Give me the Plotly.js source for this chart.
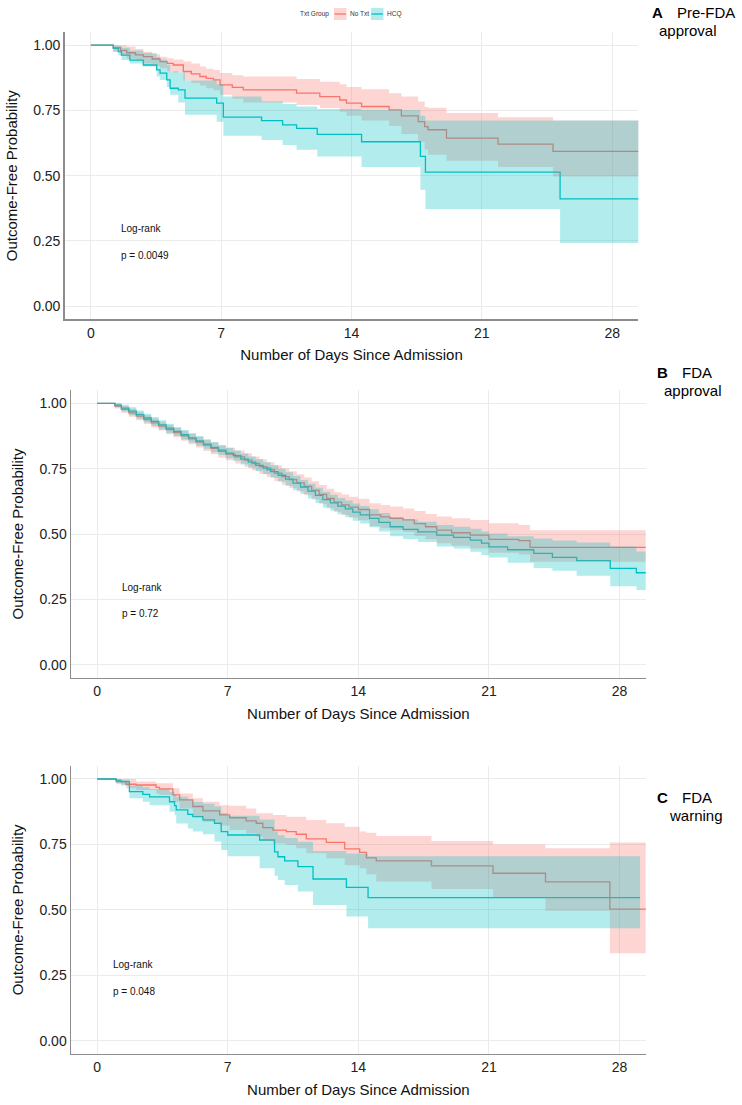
<!DOCTYPE html>
<html>
<head>
<meta charset="utf-8">
<script src="https://cdn.plot.ly/plotly-3.0.1.min.js"></script>
<style>html,body{margin:0;padding:0;background:#fff;}#chart{width:742px;height:1105px;}</style>
</head>
<body>
<div id="chart"></div>
<script>
// ---------- Panel A: Pre-FDA approval ----------
const A_noTxt_days  = [0, 1.2, 1.6, 1.93, 2.4, 2.82, 3.3, 3.72, 4.1, 4.43, 4.97, 5.4, 5.86, 6.2, 6.58, 6.94, 7.6, 8.19, 11.05, 12.3, 13.37, 13.73, 14.54, 16.02, 16.68, 17.58, 17.93, 18.11, 19.1, 21.87, 24.82, 30];
const A_noTxt_surv  = [1, 0.99, 0.98, 0.971, 0.963, 0.956, 0.947, 0.937, 0.93, 0.924, 0.899, 0.89, 0.88, 0.873, 0.867, 0.848, 0.838, 0.829, 0.816, 0.803, 0.790, 0.778, 0.765, 0.752, 0.729, 0.707, 0.688, 0.676, 0.644, 0.621, 0.593, 0.593];
const A_noTxt_upper = [1, 1, 1, 0.995, 0.985, 0.975, 0.965, 0.956, 0.95, 0.945, 0.937, 0.93, 0.918, 0.91, 0.905, 0.893, 0.885, 0.880, 0.87, 0.86, 0.85, 0.84, 0.831, 0.816, 0.803, 0.784, 0.763, 0.76, 0.740, 0.724, 0.711, 0.711];
const A_noTxt_lower = [1, 0.975, 0.96, 0.948, 0.94, 0.93, 0.92, 0.912, 0.9, 0.895, 0.865, 0.855, 0.845, 0.835, 0.827, 0.81, 0.795, 0.78, 0.771, 0.759, 0.745, 0.73, 0.711, 0.69, 0.66, 0.63, 0.60, 0.58, 0.557, 0.533, 0.497, 0.497];

const A_hcq_days  = [0, 1.21, 1.48, 1.65, 2.1, 2.82, 3.54, 3.72, 4.08, 4.26, 4.7, 5.06, 6.76, 7.12, 9.17, 10.3, 11.05, 12.16, 14.54, 17.7, 17.97, 25.2, 30];
const A_hcq_surv  = [1, 0.988, 0.975, 0.962, 0.943, 0.924, 0.905, 0.893, 0.867, 0.835, 0.829, 0.797, 0.778, 0.724, 0.711, 0.695, 0.681, 0.658, 0.630, 0.574, 0.514, 0.411, 0.411];
const A_hcq_upper = [1, 1, 0.998, 0.99, 0.98, 0.97, 0.955, 0.945, 0.925, 0.9, 0.895, 0.865, 0.85, 0.803, 0.785, 0.775, 0.765, 0.755, 0.752, 0.73, 0.711, 0.711, 0.711];
const A_hcq_lower = [1, 0.975, 0.96, 0.943, 0.93, 0.918, 0.88, 0.867, 0.84, 0.81, 0.78, 0.733, 0.707, 0.653, 0.637, 0.618, 0.599, 0.574, 0.533, 0.446, 0.372, 0.242, 0.242];

// ---------- Panel B: FDA approval ----------
const B_noTxt_days  = [0, 0.95, 1.3, 1.7, 2.1, 2.5, 2.9, 3.3, 3.7, 4.1, 4.5, 4.9, 5.3, 5.7, 6.1, 6.5, 6.9, 7.4, 7.9, 8.3, 8.7, 9.1, 9.5, 9.9, 10.3, 10.7, 11.1, 11.5, 11.9, 12.3, 12.7, 13.1, 13.5, 14.0, 14.6, 15.2, 15.7, 16.4, 17.0, 17.6, 18.2, 19.0, 20.0, 21.0, 22.6, 23.2, 30];
const B_noTxt_surv  = [1, 0.99, 0.977, 0.964, 0.951, 0.938, 0.925, 0.913, 0.9, 0.888, 0.876, 0.864, 0.852, 0.84, 0.828, 0.816, 0.806, 0.795, 0.783, 0.77, 0.758, 0.746, 0.733, 0.72, 0.708, 0.696, 0.682, 0.667, 0.652, 0.636, 0.622, 0.612, 0.603, 0.594, 0.573, 0.566, 0.56, 0.554, 0.54, 0.528, 0.515, 0.505, 0.496, 0.48, 0.475, 0.449, 0.449];
const B_noTxt_upper = [1, 1, 0.99, 0.979, 0.967, 0.955, 0.942, 0.93, 0.918, 0.906, 0.895, 0.884, 0.873, 0.862, 0.851, 0.84, 0.83, 0.82, 0.809, 0.797, 0.786, 0.775, 0.763, 0.751, 0.74, 0.729, 0.716, 0.702, 0.688, 0.673, 0.66, 0.651, 0.643, 0.635, 0.618, 0.611, 0.605, 0.598, 0.588, 0.577, 0.567, 0.56, 0.554, 0.541, 0.535, 0.515, 0.515];
const B_noTxt_lower = [1, 0.98, 0.964, 0.949, 0.935, 0.921, 0.908, 0.896, 0.882, 0.87, 0.857, 0.844, 0.831, 0.818, 0.805, 0.792, 0.782, 0.77, 0.757, 0.743, 0.73, 0.717, 0.703, 0.689, 0.676, 0.663, 0.648, 0.632, 0.616, 0.599, 0.584, 0.573, 0.563, 0.553, 0.53, 0.522, 0.515, 0.508, 0.493, 0.48, 0.465, 0.455, 0.445, 0.428, 0.422, 0.394, 0.394];

const B_hcq_days  = [0, 0.95, 1.3, 1.7, 2.1, 2.5, 2.9, 3.3, 3.7, 4.1, 4.5, 4.9, 5.3, 5.7, 6.1, 6.5, 6.9, 7.3, 7.7, 8.1, 8.5, 8.9, 9.3, 9.7, 10.1, 10.5, 10.9, 11.3, 11.7, 12.1, 12.5, 12.9, 13.3, 13.7, 14.1, 14.6, 15.1, 15.7, 16.4, 17.2, 18.2, 19.1, 20.0, 20.6, 21.0, 22.0, 23.4, 24.4, 25.7, 27.5, 28.9, 30];
const B_hcq_surv  = [1, 0.993, 0.982, 0.97, 0.957, 0.944, 0.931, 0.918, 0.905, 0.893, 0.88, 0.868, 0.856, 0.844, 0.832, 0.821, 0.81, 0.8, 0.787, 0.775, 0.763, 0.752, 0.739, 0.725, 0.71, 0.695, 0.68, 0.664, 0.648, 0.632, 0.619, 0.607, 0.596, 0.584, 0.573, 0.56, 0.545, 0.528, 0.518, 0.508, 0.496, 0.487, 0.477, 0.465, 0.451, 0.44, 0.426, 0.411, 0.398, 0.369, 0.352, 0.352];
const B_hcq_upper = [1, 1, 0.995, 0.985, 0.973, 0.96, 0.948, 0.935, 0.922, 0.91, 0.898, 0.886, 0.874, 0.862, 0.851, 0.84, 0.83, 0.82, 0.808, 0.797, 0.786, 0.775, 0.763, 0.75, 0.736, 0.722, 0.707, 0.692, 0.677, 0.662, 0.65, 0.638, 0.628, 0.617, 0.607, 0.595, 0.581, 0.565, 0.556, 0.547, 0.535, 0.528, 0.52, 0.51, 0.502, 0.492, 0.483, 0.475, 0.468, 0.452, 0.433, 0.433];
const B_hcq_lower = [1, 0.985, 0.969, 0.955, 0.941, 0.927, 0.913, 0.9, 0.887, 0.875, 0.862, 0.85, 0.838, 0.826, 0.813, 0.802, 0.79, 0.78, 0.766, 0.753, 0.74, 0.729, 0.715, 0.7, 0.684, 0.668, 0.653, 0.636, 0.619, 0.602, 0.589, 0.576, 0.564, 0.551, 0.54, 0.526, 0.51, 0.492, 0.481, 0.47, 0.452, 0.445, 0.432, 0.42, 0.41, 0.39, 0.37, 0.36, 0.34, 0.3, 0.286, 0.286];

// ---------- Panel C: FDA warning ----------
const C_noTxt_days  = [0, 1.02, 1.55, 2.09, 3.16, 3.34, 4.06, 4.42, 5.13, 5.67, 6.56, 7.1, 7.99, 8.53, 8.88, 9.42, 10.14, 10.67, 11.21, 12.28, 13.27, 14.07, 14.43, 14.96, 17.92, 21.22, 24.03, 27.48, 30];
const C_noTxt_surv  = [1, 0.99, 0.98, 0.977, 0.968, 0.962, 0.939, 0.92, 0.895, 0.878, 0.863, 0.852, 0.84, 0.831, 0.814, 0.805, 0.799, 0.789, 0.771, 0.758, 0.733, 0.72, 0.699, 0.687, 0.668, 0.64, 0.607, 0.503, 0.503];
const C_noTxt_upper = [1, 1, 1, 0.99, 0.984, 0.984, 0.965, 0.945, 0.926, 0.913, 0.9, 0.898, 0.887, 0.869, 0.869, 0.862, 0.856, 0.856, 0.843, 0.831, 0.818, 0.799, 0.795, 0.782, 0.763, 0.75, 0.735, 0.757, 0.757];
const C_noTxt_lower = [1, 0.98, 0.965, 0.958, 0.945, 0.939, 0.913, 0.887, 0.856, 0.837, 0.822, 0.805, 0.792, 0.78, 0.763, 0.754, 0.748, 0.735, 0.716, 0.697, 0.671, 0.659, 0.636, 0.608, 0.58, 0.548, 0.497, 0.334, 0.334];

const C_hcq_days  = [0, 1.02, 1.28, 1.73, 2.45, 2.81, 3.88, 4.15, 4.24, 4.86, 5.13, 5.67, 6.29, 6.65, 7.0, 8.71, 9.51, 9.69, 10.05, 10.76, 11.57, 13.36, 14.52, 29.1];
const C_hcq_surv  = [1, 0.995, 0.99, 0.952, 0.941, 0.932, 0.913, 0.898, 0.882, 0.865, 0.856, 0.844, 0.831, 0.799, 0.786, 0.767, 0.722, 0.703, 0.687, 0.665, 0.618, 0.586, 0.547, 0.547];
const C_hcq_upper = [1, 1, 0.998, 0.975, 0.968, 0.962, 0.95, 0.94, 0.932, 0.92, 0.912, 0.905, 0.895, 0.87, 0.86, 0.845, 0.80, 0.785, 0.775, 0.76, 0.725, 0.715, 0.705, 0.705];
const C_hcq_lower = [1, 0.985, 0.975, 0.926, 0.913, 0.9, 0.875, 0.862, 0.83, 0.811, 0.799, 0.789, 0.761, 0.729, 0.705, 0.659, 0.63, 0.614, 0.595, 0.570, 0.519, 0.475, 0.430, 0.430];

// ---------- Labels ----------
const groupNames = ['No Txt', 'HCQ'];
const legendTitle = 'Txt Group';
const pValues = ['p = 0.0049', 'p = 0.72', 'p = 0.048'];
const panelLetters = ['A', 'B', 'C'];
const panelLine1 = ['Pre-FDA', 'FDA', 'FDA'];
const panelLine2 = ['approval', 'approval', 'warning'];
const xTickVals = [0, 7, 14, 21, 28];
const yTickVals = [0, 0.25, 0.5, 0.75, 1];
const yTickText = ['0.00', '0.25', '0.50', '0.75', '1.00'];
const xTitle = 'Number of Days Since Admission';
const yTitle = 'Outcome-Free Probability';

// ---------- Build ----------
const W = 742, H = 1105;
const px = x => x / W;
const py = y => 1 - y / H;
const SAL = '#F8766D', TEAL = '#00BFC4';
const SAL_F = 'rgba(248,118,109,0.3)', TEAL_F = 'rgba(0,191,196,0.3)';

function panelTraces(sfx, g1, g2) {
  const xa = 'x' + sfx, ya = 'y' + sfx;
  const base = {type: 'scatter', mode: 'lines', xaxis: xa, yaxis: ya, showlegend: false, hoverinfo: 'skip'};
  return [
    Object.assign({}, base, {x: g1.d, y: g1.s, name: groupNames[0], line: {shape: 'hv', color: SAL, width: 1.3}}),
    Object.assign({}, base, {x: g2.d, y: g2.s, name: groupNames[1], line: {shape: 'hv', color: TEAL, width: 1.3}}),
    Object.assign({}, base, {x: g1.d, y: g1.l, line: {shape: 'hv', width: 0, color: SAL}}),
    Object.assign({}, base, {x: g1.d, y: g1.u, line: {shape: 'hv', width: 0, color: SAL}, fill: 'tonexty', fillcolor: SAL_F}),
    Object.assign({}, base, {x: g2.d, y: g2.l, line: {shape: 'hv', width: 0, color: TEAL}}),
    Object.assign({}, base, {x: g2.d, y: g2.u, line: {shape: 'hv', width: 0, color: TEAL}, fill: 'tonexty', fillcolor: TEAL_F})
  ];
}

const data = [].concat(
  panelTraces('', {d: A_noTxt_days, s: A_noTxt_surv, u: A_noTxt_upper, l: A_noTxt_lower},
                  {d: A_hcq_days, s: A_hcq_surv, u: A_hcq_upper, l: A_hcq_lower}),
  panelTraces('2', {d: B_noTxt_days, s: B_noTxt_surv, u: B_noTxt_upper, l: B_noTxt_lower},
                   {d: B_hcq_days, s: B_hcq_surv, u: B_hcq_upper, l: B_hcq_lower}),
  panelTraces('3', {d: C_noTxt_days, s: C_noTxt_surv, u: C_noTxt_upper, l: C_noTxt_lower},
                   {d: C_hcq_days, s: C_hcq_surv, u: C_hcq_upper, l: C_hcq_lower})
);

const FONT = 'Liberation Sans, Arial, sans-serif';
function xAxis(dom, anchor) {
  return {domain: dom, anchor: anchor, range: [-1.4, 29.4], tickvals: xTickVals, ticks: '',
    showgrid: true, gridcolor: '#EBEBEB', gridwidth: 1, zeroline: false,
    showline: true, linecolor: '#8C8C8C', linewidth: 1.5, automargin: false,
    tickfont: {size: 14, color: '#222', family: FONT},
    title: {text: xTitle, font: {size: 15, color: '#111', family: FONT}, standoff: 10}};
}
function yAxis(dom, anchor) {
  return {domain: dom, anchor: anchor, range: [-0.05, 1.05], tickvals: yTickVals, ticktext: yTickText, ticks: '',
    showgrid: true, gridcolor: '#EBEBEB', gridwidth: 1, zeroline: false,
    showline: true, linecolor: '#8C8C8C', linewidth: 1.5, automargin: false,
    tickfont: {size: 14, color: '#222', family: FONT},
    title: {text: yTitle, font: {size: 15, color: '#111', family: FONT}, standoff: 12}};
}

const annotations = [];
// Log-rank texts: [xaxis, yaxis, day, logrank value y, p value y]
const lrPos = [['x', 'y', 1.5, 0.297, 0.195], ['x2', 'y2', 1.2, 0.297, 0.195], ['x3', 'y3', 0.72, 0.293, 0.19]];
lrPos.forEach((p, i) => {
  annotations.push({xref: p[0], yref: p[1], x: p[2], y: p[3], text: 'Log-rank', showarrow: false, xanchor: 'left', yanchor: 'middle', font: {size: 10, color: '#111', family: FONT}});
  annotations.push({xref: p[0], yref: p[1], x: p[2], y: p[4], text: pValues[i], showarrow: false, xanchor: 'left', yanchor: 'middle', font: {size: 10, color: '#111', family: FONT}});
});
// Panel labels (pixel positions)
const labelPos = [[650, 675, 688, 13, 30], [655, 680, 693, 372, 390], [655, 680, 696, 797, 815]];
labelPos.forEach((p, i) => {
  annotations.push({xref: 'paper', yref: 'paper', x: px(p[0]), y: py(p[3]), text: '<b>' + panelLetters[i] + '</b>', showarrow: false, xanchor: 'left', yanchor: 'middle', font: {size: 15, color: '#000', family: FONT}});
  annotations.push({xref: 'paper', yref: 'paper', x: px(p[1]), y: py(p[3]), text: panelLine1[i], showarrow: false, xanchor: 'left', yanchor: 'middle', font: {size: 15, color: '#000', family: FONT}});
  annotations.push({xref: 'paper', yref: 'paper', x: px(p[2]), y: py(p[4]), text: panelLine2[i], showarrow: false, xanchor: 'center', yanchor: 'middle', font: {size: 15, color: '#000', family: FONT}});
});
// Legend
const LEGF = {size: 6.5, color: '#333', family: FONT};
annotations.push({xref: 'paper', yref: 'paper', x: px(330), y: py(14), text: legendTitle, showarrow: false, xanchor: 'right', yanchor: 'middle', font: LEGF, borderpad: 0});
annotations.push({xref: 'paper', yref: 'paper', x: px(348.5), y: py(14), text: groupNames[0], showarrow: false, xanchor: 'left', yanchor: 'middle', font: LEGF, borderpad: 0});
annotations.push({xref: 'paper', yref: 'paper', x: px(386), y: py(14), text: groupNames[1], showarrow: false, xanchor: 'left', yanchor: 'middle', font: LEGF, borderpad: 0});

const shapes = [
  {type: 'rect', xref: 'paper', yref: 'paper', x0: px(334), x1: px(346.5), y0: py(8), y1: py(20), fillcolor: SAL_F, line: {width: 0}},
  {type: 'line', xref: 'paper', yref: 'paper', x0: px(334.5), x1: px(346), y0: py(14), y1: py(14), line: {color: SAL, width: 1.3}},
  {type: 'rect', xref: 'paper', yref: 'paper', x0: px(371), x1: px(383.5), y0: py(8), y1: py(20), fillcolor: TEAL_F, line: {width: 0}},
  {type: 'line', xref: 'paper', yref: 'paper', x0: px(371.5), x1: px(383), y0: py(14), y1: py(14), line: {color: TEAL, width: 1.3}}
];

const layout = {
  width: W, height: H, margin: {l: 0, r: 0, t: 0, b: 0},
  paper_bgcolor: '#fff', plot_bgcolor: '#fff',
  font: {family: FONT},
  showlegend: false,
  xaxis:  xAxis([px(64.7), px(638.3)], 'y'),
  yaxis:  yAxis([py(319.3), py(32.1)], 'x'),
  xaxis2: xAxis([px(71), px(645.7)], 'y2'),
  yaxis2: yAxis([py(677.8), py(390.3)], 'x2'),
  xaxis3: xAxis([px(71), px(645.7)], 'y3'),
  yaxis3: yAxis([py(1053.9), py(765.9)], 'x3'),
  annotations: annotations,
  shapes: shapes
};

Plotly.newPlot('chart', data, layout, {displayModeBar: false, staticPlot: true});
</script>
</body>
</html>
